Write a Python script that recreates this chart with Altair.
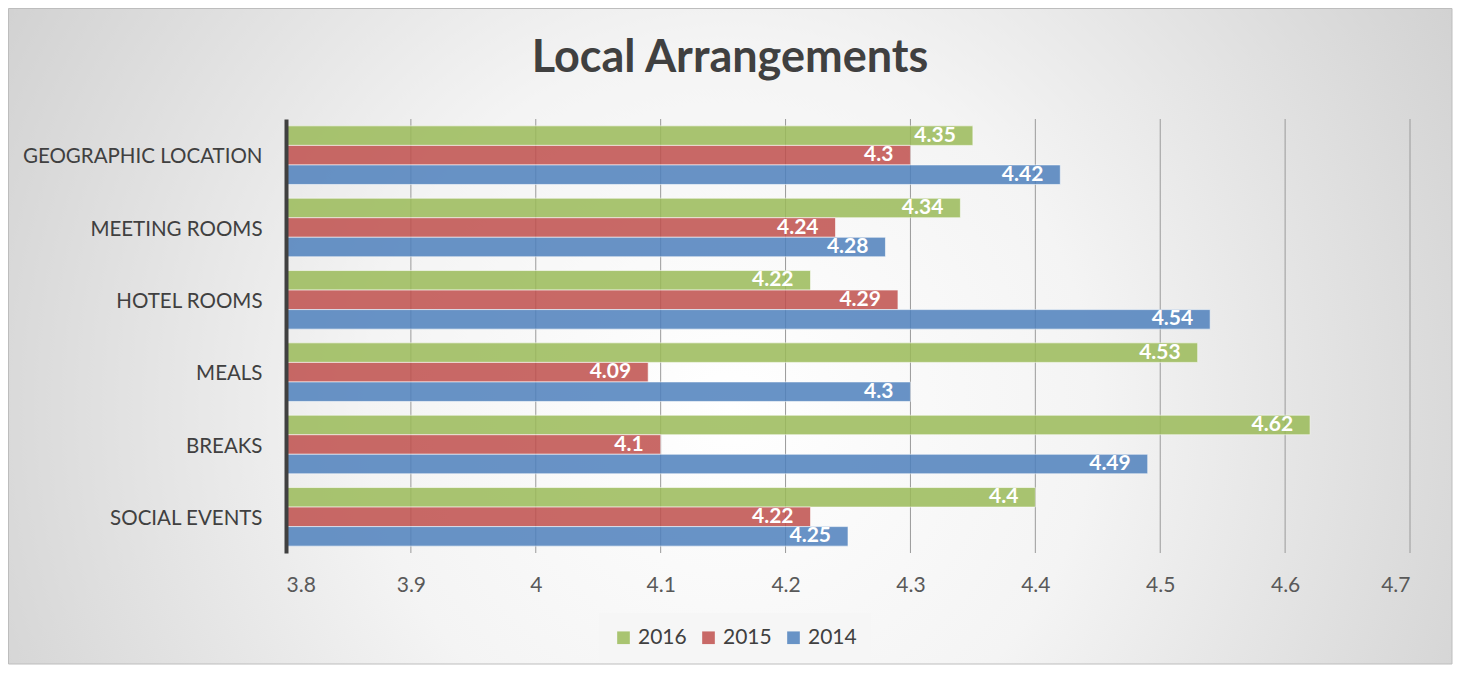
import altair as alt
import pandas as pd

categories = ["GEOGRAPHIC LOCATION", "MEETING ROOMS", "HOTEL ROOMS", "MEALS", "BREAKS", "SOCIAL EVENTS"]
years = ["2016", "2015", "2014"]
v2016 = [4.35, 4.34, 4.22, 4.53, 4.62, 4.4]
v2015 = [4.3, 4.24, 4.29, 4.09, 4.1, 4.22]
v2014 = [4.42, 4.28, 4.54, 4.3, 4.49, 4.25]
colors = ["#9BBB59", "#C0504D", "#4F81BD"]
x_ticks = [3.8, 3.9, 4.0, 4.1, 4.2, 4.3, 4.4, 4.5, 4.6, 4.7]
title_text = "Local Arrangements"

rows = []
for yr, vals in zip(years, [v2016, v2015, v2014]):
    for c, v in zip(categories, vals):
        rows.append({"category": c, "year": yr, "value": v, "label": f"{v:g}"})
df = pd.DataFrame(rows)
grid_df = pd.DataFrame({"tick": x_ticks[1:]})

FONT = "Lato"
W, H = 1124, 434
PL, PT = 278, 111

bg = alt.Chart(pd.DataFrame({"a": [0]})).mark_rect(
    fill={
        "gradient": "radial",
        "x1": 0.5, "y1": 0.55, "r1": 0.0,
        "x2": 0.5, "y2": 0.55, "r2": 0.72,
        "stops": [
            {"offset": 0, "color": "#FFFFFF"},
            {"offset": 0.35, "color": "#F4F4F4"},
            {"offset": 1, "color": "#C2C2C2"},
        ],
    },
    stroke="#BDBDBD", strokeWidth=1,
).encode(
    x=alt.value(-PL + 0.5), x2=alt.value(W + 42),
    y=alt.value(-PT + 0.5), y2=alt.value(H + 111),
)

title = alt.Chart(pd.DataFrame({"t": [title_text]})).mark_text(
    font=FONT, fontSize=45, fontWeight="bold", color="#404040", align="center", baseline="middle"
).encode(x=alt.value(730 - 286), y=alt.value(58 - 119), text="t:N")

x_scale = alt.Scale(domain=[3.8, 4.7], zero=False, nice=False)

grid = alt.Chart(grid_df).mark_rule(color="#9A9A9A", strokeWidth=1).encode(
    x=alt.X("tick:Q", scale=x_scale),
    y=alt.value(0), y2=alt.value(H),
)

y_enc = alt.Y("category:N", sort=categories,
              scale=alt.Scale(paddingInner=0.19, paddingOuter=0.095),
              axis=alt.Axis(title=None, domain=True, domainColor="#404040", domainWidth=4,
                            ticks=False, labelPadding=24, labelFont=FONT, labelFontSize=20.5,
                            labelOffset=2,
                            labelLimit=400, labelColor="#404040", grid=False, zindex=2))
yoff = alt.YOffset("year:N", sort=years, scale=alt.Scale(paddingInner=0, paddingOuter=0))

bars = alt.Chart(df).mark_bar(opacity=0.85, stroke="#FFFFFF", strokeWidth=1, strokeOpacity=0.6).encode(
    x=alt.X("value:Q", scale=x_scale,
            axis=alt.Axis(title=None, values=x_ticks, format="~g", domain=False, ticks=False,
                          grid=False, zindex=2,
                          labelPadding=21, labelFont=FONT, labelFontSize=21, labelColor="#595959")),
    x2=alt.datum(3.8),
    y=y_enc,
    yOffset=yoff,
    color=alt.Color("year:N", sort=years,
                    scale=alt.Scale(domain=years, range=colors),
                    legend=alt.Legend(title=None, orient="none", direction="horizontal",
                                      legendX=313, legendY=494, columns=3,
                                      fillColor="#F6F6F6", padding=14,
                                      symbolType="square", symbolSize=160, symbolOpacity=0.85,
                                      symbolStrokeWidth=0,
                                      labelFont=FONT, labelFontSize=21, labelColor="#404040",
                                      labelOffset=4, columnPadding=11)),
)

labels = alt.Chart(df).mark_text(
    align="right", baseline="middle", dx=-17, font=FONT, fontSize=21, fontWeight="bold", color="#FFFFFF"
).encode(
    x=alt.X("value:Q", scale=x_scale),
    y=alt.Y("category:N", sort=categories),
    yOffset=alt.YOffset("year:N", sort=years),
    text="label:N",
)

chart = alt.layer(bg, title, grid, bars, labels).properties(
    width=W, height=H,
    autosize=alt.AutoSizeParams(type="none"),
    padding={"left": PL, "top": PT, "right": 1445 - PL - W, "bottom": 112},
).configure_view(stroke=None)

chart.save("out.html", embed_options={"renderer": "svg", "actions": False})
